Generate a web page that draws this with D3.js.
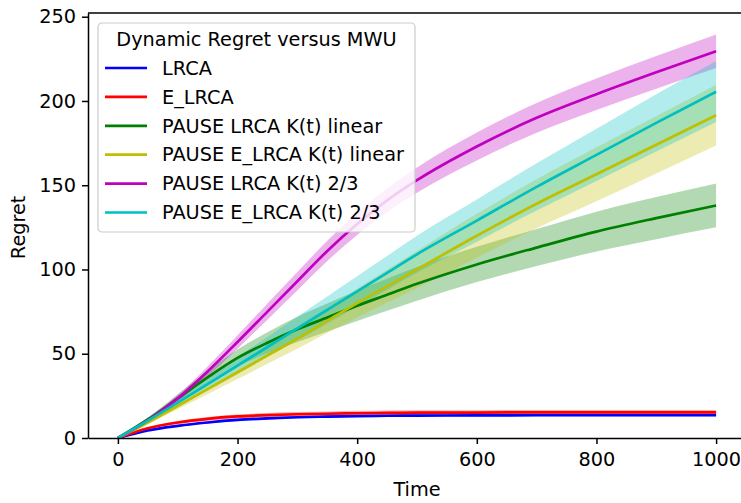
<!DOCTYPE html>
<html>
<head>
<meta charset="utf-8">
<script src="https://cdn.jsdelivr.net/npm/d3@7"></script>
<style>
  body { margin: 0; background: #fff; }
  text { font-family: "DejaVu Sans", sans-serif; fill: #000; }
</style>
</head>
<body>
<div id="chart"></div>
<script>
const WIDTH = 741, HEIGHT = 503;
const MARGIN = { left: 88, right: -5, top: 13, bottom: 65 };
const FONT = 19.3;

// time steps
const times = [0, 50, 100, 150, 200, 250, 300, 350, 400, 450, 500, 600, 700, 800, 900, 1000];

const lrca      = [0, 4.5, 7.2, 9.2, 10.7, 11.6, 12.3, 12.7, 13.0, 13.2, 13.3, 13.4, 13.5, 13.5, 13.5, 13.5];
const lrcaSd    = [0, 0.4, 0.5, 0.6, 0.6, 0.6, 0.6, 0.6, 0.6, 0.6, 0.6, 0.6, 0.6, 0.6, 0.6, 0.6];
const eLrca     = [0, 5.8, 9.2, 11.4, 12.8, 13.6, 14.1, 14.4, 14.7, 14.9, 15.0, 15.1, 15.2, 15.2, 15.2, 15.2];
const eLrcaSd   = [0, 0.6, 0.9, 1.1, 1.2, 1.3, 1.3, 1.3, 1.4, 1.4, 1.4, 1.4, 1.4, 1.4, 1.4, 1.4];
const pLin      = [0, 11, 23.5, 36, 47.5, 56.5, 64.5, 71.5, 78.5, 85, 91.5, 103, 113, 122.5, 130.5, 138];
const pLinSd    = [0, 1.2, 2.5, 3.8, 5, 6.2, 7.5, 8.3, 9, 9.5, 10, 10.5, 11, 11.8, 12.5, 13];
const pELin     = [0, 9.2, 19, 29, 39, 49, 59, 69.5, 80, 90, 100, 120, 139, 156.5, 174, 191.5];
const pELinSd   = [0, 1, 2, 3, 4, 5, 6, 7.2, 8.5, 9.8, 11, 13, 14.5, 16, 17, 18];
const p23       = [0, 10.5, 23.5, 39.5, 57, 75, 93, 111, 127, 141, 153, 173, 190, 204, 217, 229.5];
const p23Sd     = [0, 1, 2, 3, 4, 4.8, 5.5, 6, 6.5, 7, 7.5, 8.3, 8.8, 9.3, 9.7, 10];
const pE23      = [0, 10.3, 21, 32, 43, 54, 65, 76, 87, 98, 109, 129, 149, 168, 187, 205.5];
const pE23Sd    = [0, 1.2, 2.5, 3.8, 5, 6, 7, 8, 9, 10, 11, 12.5, 14, 15.5, 17, 18];

const seriesNames = ["LRCA", "E_LRCA", "PAUSE LRCA K(t) linear", "PAUSE E_LRCA K(t) linear",
                     "PAUSE LRCA K(t) 2/3", "PAUSE E_LRCA K(t) 2/3"];
const seriesColors = ["#0000ff", "#ff0000", "#008000", "#bfbf00", "#bf00bf", "#00bfbf"];
const seriesValues = [lrca, eLrca, pLin, pELin, p23, pE23];
const seriesSpread = [lrcaSd, eLrcaSd, pLinSd, pELinSd, p23Sd, pE23Sd];

const xTicks = [0, 200, 400, 600, 800, 1000];
const yTicks = [0, 50, 100, 150, 200, 250];

const PLOT_W = WIDTH - MARGIN.left - MARGIN.right;
const PLOT_H = HEIGHT - MARGIN.top - MARGIN.bottom;

setup();

function setup() {
    const svg = d3.select("#chart").append("svg")
      .attr("width", WIDTH)
      .attr("height", HEIGHT);
    svg.append("rect").attr("width", "100%").attr("height", "100%").attr("fill", "#fff");

    const xScale = d3.scaleLinear().domain([-50, 1050]).range([0, PLOT_W]);
    const yScale = d3.scaleLinear().domain([0, 252.2]).range([PLOT_H, 0]);

    const g = svg.append("g").attr("transform", `translate(${MARGIN.left},${MARGIN.top})`);

    const data = seriesValues.map((vals, i) =>
        times.map((t, j) => ({ t: t, v: vals[j], s: seriesSpread[i][j] })));

    // bands first (matplotlib draws fills below lines)
    data.forEach((pts, i) => {
        g.append("path")
          .datum(pts)
          .attr("fill", seriesColors[i])
          .attr("fill-opacity", 0.3)
          .attr("d", d3.area()
            .x(d => xScale(d.t))
            .y0(d => yScale(d.v - d.s))
            .y1(d => yScale(d.v + d.s))
            .curve(d3.curveMonotoneX));
    });
    data.forEach((pts, i) => {
        g.append("path")
          .datum(pts)
          .attr("fill", "none")
          .attr("stroke", seriesColors[i])
          .attr("stroke-width", 2.7)
          .attr("d", d3.line()
            .x(d => xScale(d.t))
            .y(d => yScale(d.v))
            .curve(d3.curveMonotoneX));
    });

    // axes
    const xAxis = g.append("g")
      .attr("transform", `translate(0,${PLOT_H})`)
      .call(d3.axisBottom(xScale).tickValues(xTicks).tickFormat(d3.format("d"))
        .tickSize(6).tickPadding(8).tickSizeOuter(0));
    const yAxis = g.append("g")
      .call(d3.axisLeft(yScale).tickValues(yTicks).tickFormat(d3.format("d"))
        .tickSize(6).tickPadding(6).tickSizeOuter(0));
    [xAxis, yAxis].forEach(a => {
        a.selectAll("path").attr("stroke", "#000").attr("stroke-width", 1.5);
        a.selectAll("line").attr("stroke", "#000").attr("stroke-width", 1.5);
        a.selectAll("text").attr("font-size", FONT).attr("font-family", "DejaVu Sans");
    });
    // top spine
    g.append("line").attr("x1", 0).attr("x2", PLOT_W).attr("y1", 0).attr("y2", 0)
      .attr("stroke", "#000").attr("stroke-width", 1.5);

    svg.append("text")
      .attr("x", MARGIN.left + xScale(500)).attr("y", 496)
      .attr("text-anchor", "middle").attr("font-size", FONT).text("Time");
    svg.append("text")
      .attr("transform", `translate(25,${MARGIN.top + yScale(125)}) rotate(-90)`)
      .attr("text-anchor", "middle").attr("font-size", FONT).text("Regret");

    // legend
    const legend = svg.append("g").attr("transform", "translate(98,23)");
    legend.append("rect")
      .attr("width", 317).attr("height", 209).attr("rx", 4)
      .attr("fill", "#fff").attr("fill-opacity", 0.8)
      .attr("stroke", "#cccccc").attr("stroke-width", 1.2);
    legend.append("text")
      .attr("x", 158.5).attr("y", 23).attr("text-anchor", "middle")
      .attr("font-size", FONT).text("Dynamic Regret versus MWU");
    seriesNames.forEach((name, i) => {
        const y = 45 + i * 28.9;
        legend.append("line")
          .attr("x1", 7).attr("x2", 49).attr("y1", y).attr("y2", y)
          .attr("stroke", seriesColors[i]).attr("stroke-width", 2.7);
        legend.append("text")
          .attr("x", 64).attr("y", y).attr("dy", "0.35em")
          .attr("font-size", FONT).text(name);
    });
}
</script>
</body>
</html>
